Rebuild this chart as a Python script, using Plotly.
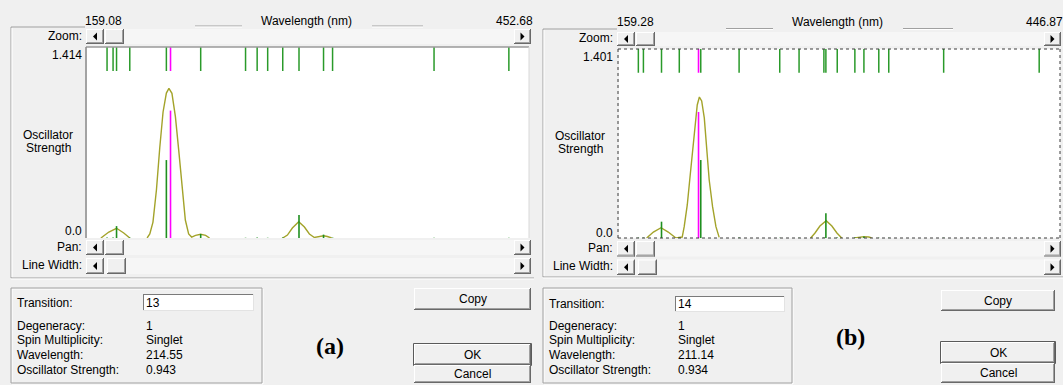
import plotly.graph_objects as go

# ======================= DATA =======================
# Panel (a)
A_RANGE = [159.08, 452.68]          # wavelength window (nm)
A_FMAX = 1.414                      # oscillator strength full scale
A_WL = [172.4, 176.4, 178.7, 187.5, 211.8, 214.55, 234.6, 264.4, 272.1,
        279.1, 289.1, 299.9, 316.2, 322.2, 389.6, 439.3]
A_F = [0.004, 0.003, 0.088, 0.003, 0.577, 0.943, 0.030, 0.002, 0.003,
       0.002, 0.004, 0.170, 0.025, 0.003, 0.002, 0.002]
A_SEL = 214.55                      # selected transition (magenta)
A_ENV_WL = [168.3, 173.6, 178.7, 183.5, 187.5, None,
            199.0, 200.8, 202.9, 205.2, 207.4, 209.6, 211.8, 213.5, 215.5,
            217.8, 220.0, 222.2, 224.4, 226.6, 228.6, 231.2, 234.6, 237.9,
            240.5, None,
            289.1, 292.2, 295.5, 299.7, 303.5, 306.8, 310.1, 313.4, 316.3,
            318.7, 321.6]
A_ENV_F = [0, 0.044, 0.072, 0.037, 0, None,
           0, 0.030, 0.118, 0.355, 0.666, 0.933, 1.073, 1.108, 1.071,
           0.898, 0.651, 0.378, 0.133, 0.030, 0.007, 0.019, 0.028, 0.019,
           0, None,
           0, 0.022, 0.074, 0.121, 0.081, 0.030, 0.004, 0.013, 0.017,
           0.011, 0]
A_INFO_VALUES = ["13", "1", "Singlet", "214.55", "0.943"]

# Panel (b)
B_RANGE = [159.28, 446.87]
B_FMAX = 1.401
B_WL = [171.9, 175.2, 187.0, 198.6, 211.14, 212.6, 237.6, 264.1, 276.7,
        292.9, 294.2, 301.6, 313.1, 319.0, 328.7, 335.2, 371.0, 433.3]
B_F = [0.003, 0.003, 0.121, 0.003, 0.934, 0.578, 0.003, 0.002, 0.002,
       0.004, 0.183, 0.004, 0.003, 0.012, 0.002, 0.002, 0.002, 0.002]
B_SEL = 211.14
B_ENV_WL = [177.3, 181.7, 186.7, 191.4, 196.4, 200.5, 201.8, 203.8, 205.4,
            207.2, 208.8, 210.3, 211.7, 213.2, 214.9, 216.5, 218.1, 220.3,
            222.5, 224.6, None,
            284.3, 287.1, 290.3, 294.4, 298.1, 301.4, 304.5, None,
            312.9, 315.7, 319.0, 322.2, 324.0]
B_ENV_F = [0, 0.044, 0.076, 0.044, 0, 0.007, 0.084, 0.245, 0.430,
           0.652, 0.838, 0.986, 1.045, 1.016, 0.890, 0.667, 0.430, 0.232,
           0.084, 0.005, None,
           0, 0.037, 0.089, 0.128, 0.089, 0.037, 0, None,
           0, 0.007, 0.010, 0.007, 0]
B_INFO_VALUES = ["14", "1", "Singlet", "211.14", "0.934"]

INFO_LABELS = ["Transition:", "Degeneracy:", "Spin Multiplicity:",
               "Wavelength:", "Oscillator Strength:"]

# ======================= STYLE / LAYOUT =======================
W, H = 1063, 385
UI_FONT = "Liberation Sans, Arial, sans-serif"
TAG_FONT = "Liberation Serif, Times New Roman, serif"
BG = "#f0f0f0"
GREEN = "#2a9a2a"
MAGENTA = "#ff00ff"
OLIVE = "#a3a32a"
MARK_FRAC = 24 / 191.0   # length of top transition markers, fraction of full scale

shapes, annotations = [], []


def X(px):
    return px / W


def Y(py):
    return 1 - py / H


def rect(x0, y0, x1, y1, fill=None, line=None, lw=1, dash=None):
    shapes.append(dict(type="rect", xref="paper", yref="paper",
                       x0=X(x0), x1=X(x1), y0=Y(y1), y1=Y(y0),
                       fillcolor=fill or "rgba(0,0,0,0)",
                       line=dict(color=line or "rgba(0,0,0,0)",
                                 width=lw if line else 0, dash=dash),
                       layer="above"))


def seg(x0, y0, x1, y1, color, lw=1, dash=None):
    shapes.append(dict(type="line", xref="paper", yref="paper",
                       x0=X(x0), x1=X(x1), y0=Y(y0), y1=Y(y1),
                       line=dict(color=color, width=lw, dash=dash),
                       layer="above"))


def tri(cx, cy, direction):
    if direction == "left":
        pts = [(cx + 2, cy - 4), (cx + 2, cy + 4), (cx - 2, cy)]
    else:
        pts = [(cx - 2, cy - 4), (cx - 2, cy + 4), (cx + 2, cy)]
    path = "M " + " L ".join(f"{X(a):.6f},{Y(b):.6f}" for a, b in pts) + " Z"
    shapes.append(dict(type="path", xref="paper", yref="paper", path=path,
                       fillcolor="#000000", line=dict(width=0), layer="above"))


def text(x, y, s, anchor="left", size=12, family=UI_FONT, color="#000000"):
    annotations.append(dict(xref="paper", yref="paper", x=X(x), y=Y(y), text=s,
                            showarrow=False, xanchor=anchor, yanchor="middle",
                            font=dict(family=family, size=size, color=color),
                            borderpad=0, borderwidth=0))


def button3d(x0, y0, x1, y1, face=BG, default=False):
    rect(x0, y0, x1, y1, fill=face)
    seg(x0, y0 + 0.5, x1, y0 + 0.5, "#ffffff")
    seg(x0 + 0.5, y0, x0 + 0.5, y1, "#ffffff")
    seg(x0, y1 - 0.5, x1, y1 - 0.5, "#696969")
    seg(x1 - 0.5, y0, x1 - 0.5, y1, "#696969")
    seg(x0 + 1, y1 - 1.5, x1 - 1, y1 - 1.5, "#a0a0a0")
    seg(x1 - 1.5, y0 + 1, x1 - 1.5, y1 - 1, "#a0a0a0")
    if default:
        rect(x0 - 0.5, y0 - 0.5, x1 + 0.5, y1 + 0.5, line="#5a5a5a", lw=1)


def scrollbar(x0, y0, x1, y1, thumb_gap=0):
    rect(x0, y0, x1, y1, fill="#f6f6f6")
    button3d(x0, y0, x0 + 18, y1)
    tri(x0 + 9, (y0 + y1) / 2, "left")
    button3d(x0 + 19 + thumb_gap, y0, x0 + 38 + thumb_gap, y1)
    button3d(x1 - 17, y0, x1, y1)
    tri(x1 - 8.5, (y0 + y1) / 2, "right")


def panel_chrome(p, values):
    # group box around the spectrum section
    gx, gy = p["grp"]
    seg(gx, gy, gx, p["grp_bottom"], "#a0a0a0")
    seg(gx + 1, gy + 1, gx + 1, p["grp_bottom"] - 1, "#ffffff")
    seg(gx, gy, p["plot"][0] - 1, gy, "#a0a0a0")
    seg(gx, p["grp_bottom"], p["grp_right"], p["grp_bottom"], "#a0a0a0")
    seg(gx, p["grp_bottom"] + 1, p["grp_right"], p["grp_bottom"] + 1, "#ffffff")
    for (sx0, sx1, sy) in p["seps"]:
        seg(sx0, sy, sx1, sy, "#a0a0a0")
        seg(sx0, sy + 1, sx1, sy + 1, "#ffffff")
    # top wavelength labels
    text(p["wl_min_x"], p["top_y"], p["wl_min"])
    text(p["wl_center"], p["top_y"], "Wavelength (nm)", anchor="center")
    text(p["wl_max_right"], p["top_y"], p["wl_max"], anchor="right")
    # scrollbars
    scrollbar(*p["zoom_sb"])
    scrollbar(*p["pan_sb"])
    scrollbar(*p["lw_sb"], thumb_gap=2)
    # left labels
    r = p["lbl_right"]
    text(r, p["zoom_y"], "Zoom:", anchor="right")
    text(r, p["ytop_y"], p["ytop"], anchor="right")
    text(p["osc_x"], p["osc_y"][0], "Oscillator", anchor="center")
    text(p["osc_x"], p["osc_y"][1], "Strength", anchor="center")
    text(r, p["y0_y"], "0.0", anchor="right")
    text(r, p["pan_y"], "Pan:", anchor="right")
    text(r, p["lw_y"], "Line Width:", anchor="right")
    # plot frame
    px0, py0, px1, py1 = p["plot"]
    if p["dotted"]:
        for (a, b, c, d) in [(px0, py0, px1, py0), (px0, py1, px1, py1),
                             (px0, py0, px0, py1), (px1, py0, px1, py1)]:
            seg(a, b, c, d, "#3c3c3c", lw=1, dash="dot")
    else:
        seg(px0, py0, px1, py0, "#9a9a9a", lw=1.5)
        seg(px0, py0, px0, py1, "#8a8a8a", lw=1.5)
        seg(px1, py0, px1, py1, "#d8d8d8", lw=1)
    # info group box
    bx0, by0, bx1, by1 = p["info_box"]
    rect(bx0 + 1, by0 + 1, bx1 + 1, by1 + 1, line="#ffffff", lw=1)
    rect(bx0, by0, bx1, by1, line="#a0a0a0", lw=1)
    ix0, iy0, ix1, iy1 = p["input"]
    rect(ix0, iy0, ix1, iy1, fill="#ffffff")
    seg(ix0, iy0 + 0.5, ix1, iy0 + 0.5, "#7a7a7a")
    seg(ix0 + 0.5, iy0, ix0 + 0.5, iy1, "#7a7a7a")
    seg(ix0, iy1 - 0.5, ix1, iy1 - 0.5, "#e3e3e3")
    seg(ix1 - 0.5, iy0, ix1 - 0.5, iy1, "#e3e3e3")
    for lab, val, ry in zip(INFO_LABELS, values, p["rows_y"]):
        text(p["lbl_x"], ry, lab)
        text(p["val_x"], ry, val)
    text(p["tag_xy"][0], p["tag_xy"][1], f"<b>{p['tag']}</b>", anchor="center",
         size=24, family=TAG_FONT)
    # dialog buttons
    for (name, box, dflt) in [("Copy", p["copy"], False), ("OK", p["ok"], True),
                              ("Cancel", p["cancel"], False)]:
        button3d(*box, default=dflt)
        text((box[0] + box[2]) / 2, (box[1] + box[3]) / 2, name, anchor="center")


PA = dict(grp=(11, 27), grp_bottom=278, grp_right=534,
          plot=(86, 47, 529, 238), dom=(87, 529),
          lbl_right=82, top_y=21, wl_min_x=85, wl_center=306, wl_max_right=533,
          wl_min="159.08", wl_max="452.68",
          seps=[(195, 242, 26), (372, 423, 26)],
          zoom_sb=(86, 29, 531, 44), pan_sb=(86, 240, 531, 255),
          lw_sb=(86, 258, 531, 274),
          zoom_y=36, ytop_y=55, ytop="1.414", osc_x=48, osc_y=(135, 148),
          y0_y=231, pan_y=247, lw_y=265, dotted=False,
          info_box=(11, 288, 262, 383), input=(143, 294, 254, 311),
          lbl_x=17, val_x=146, rows_y=[303, 326, 340, 355, 370],
          tag="(a)", tag_xy=(330, 346),
          copy=(414, 288, 531, 310), ok=(414, 344, 531, 365),
          cancel=(414, 365, 531, 383))

PB = dict(grp=(543, 29), grp_bottom=277, grp_right=1063,
          plot=(618, 49, 1060, 238), dom=(619, 1060),
          lbl_right=613, top_y=22, wl_min_x=617, wl_center=837, wl_max_right=1063,
          wl_min="159.28", wl_max="446.87",
          seps=[(726, 773, 28.5), (903, 953, 28.5)],
          zoom_sb=(617, 32, 1061, 46), pan_sb=(617, 241, 1061, 256.5),
          lw_sb=(617, 259.5, 1061, 275),
          zoom_y=38, ytop_y=57, ytop="1.401", osc_x=580, osc_y=(136.5, 149),
          y0_y=232.5, pan_y=247.5, lw_y=266, dotted=True,
          info_box=(543, 288, 792, 383), input=(675, 296, 785, 312),
          lbl_x=549, val_x=678, rows_y=[304, 326, 340, 355, 370],
          tag="(b)", tag_xy=(850, 337),
          copy=(941, 290, 1055, 311), ok=(941, 342, 1055, 363),
          cancel=(941, 363, 1055, 383))

panel_chrome(PA, A_INFO_VALUES)
panel_chrome(PB, B_INFO_VALUES)

# ======================= TRACES =======================
fig = go.Figure()


def add_spectrum(wl, f, sel, env_wl, env_f, fmax, xa, ya):
    fig.add_trace(go.Scatter(x=env_wl, y=env_f, mode="lines", xaxis=xa, yaxis=ya,
                             line=dict(color=OLIVE, width=1.4), connectgaps=False,
                             hoverinfo="skip"))
    sx, sy, mx, my = [], [], [], []
    psx, psy = [], []
    for w, v in zip(wl, f):
        if abs(w - sel) < 1e-9:
            psx += [w, w, None, w, w, None]
            psy += [0, v, None, fmax, fmax * (1 - MARK_FRAC), None]
            continue
        sx += [w, w, None]
        sy += [0, v, None]
        mx += [w, w, None]
        my += [fmax, fmax * (1 - MARK_FRAC), None]
    fig.add_trace(go.Scatter(x=mx, y=my, mode="lines", xaxis=xa, yaxis=ya,
                             line=dict(color=GREEN, width=1.5), hoverinfo="skip"))
    fig.add_trace(go.Scatter(x=sx, y=sy, mode="lines", xaxis=xa, yaxis=ya,
                             line=dict(color="#1f8f1f", width=1.6), hoverinfo="skip"))
    fig.add_trace(go.Scatter(x=psx, y=psy, mode="lines", xaxis=xa, yaxis=ya,
                             line=dict(color=MAGENTA, width=1.6), hoverinfo="skip"))


add_spectrum(A_WL, A_F, A_SEL, A_ENV_WL, A_ENV_F, A_FMAX, "x", "y")
add_spectrum(B_WL, B_F, B_SEL, B_ENV_WL, B_ENV_F, B_FMAX, "x2", "y2")

axis_common = dict(visible=False, showgrid=False, zeroline=False, fixedrange=True)
fig.update_layout(
    width=W, height=H, autosize=False,
    margin=dict(l=0, r=0, t=0, b=0, pad=0),
    paper_bgcolor=BG, plot_bgcolor="#ffffff",
    showlegend=False, hovermode=False,
    xaxis=dict(domain=[X(PA["dom"][0]), X(PA["dom"][1])], range=A_RANGE,
               anchor="y", **axis_common),
    yaxis=dict(domain=[Y(238), Y(47)], range=[0, A_FMAX], anchor="x", **axis_common),
    xaxis2=dict(domain=[X(PB["dom"][0]), X(PB["dom"][1])], range=B_RANGE,
                anchor="y2", **axis_common),
    yaxis2=dict(domain=[Y(238), Y(49)], range=[0, B_FMAX], anchor="x2", **axis_common),
    shapes=shapes, annotations=annotations,
)

fig.write_html("out.html", config={"displayModeBar": False},
               post_script="document.body.style.margin='0px';document.body.style.overflow='hidden';")
